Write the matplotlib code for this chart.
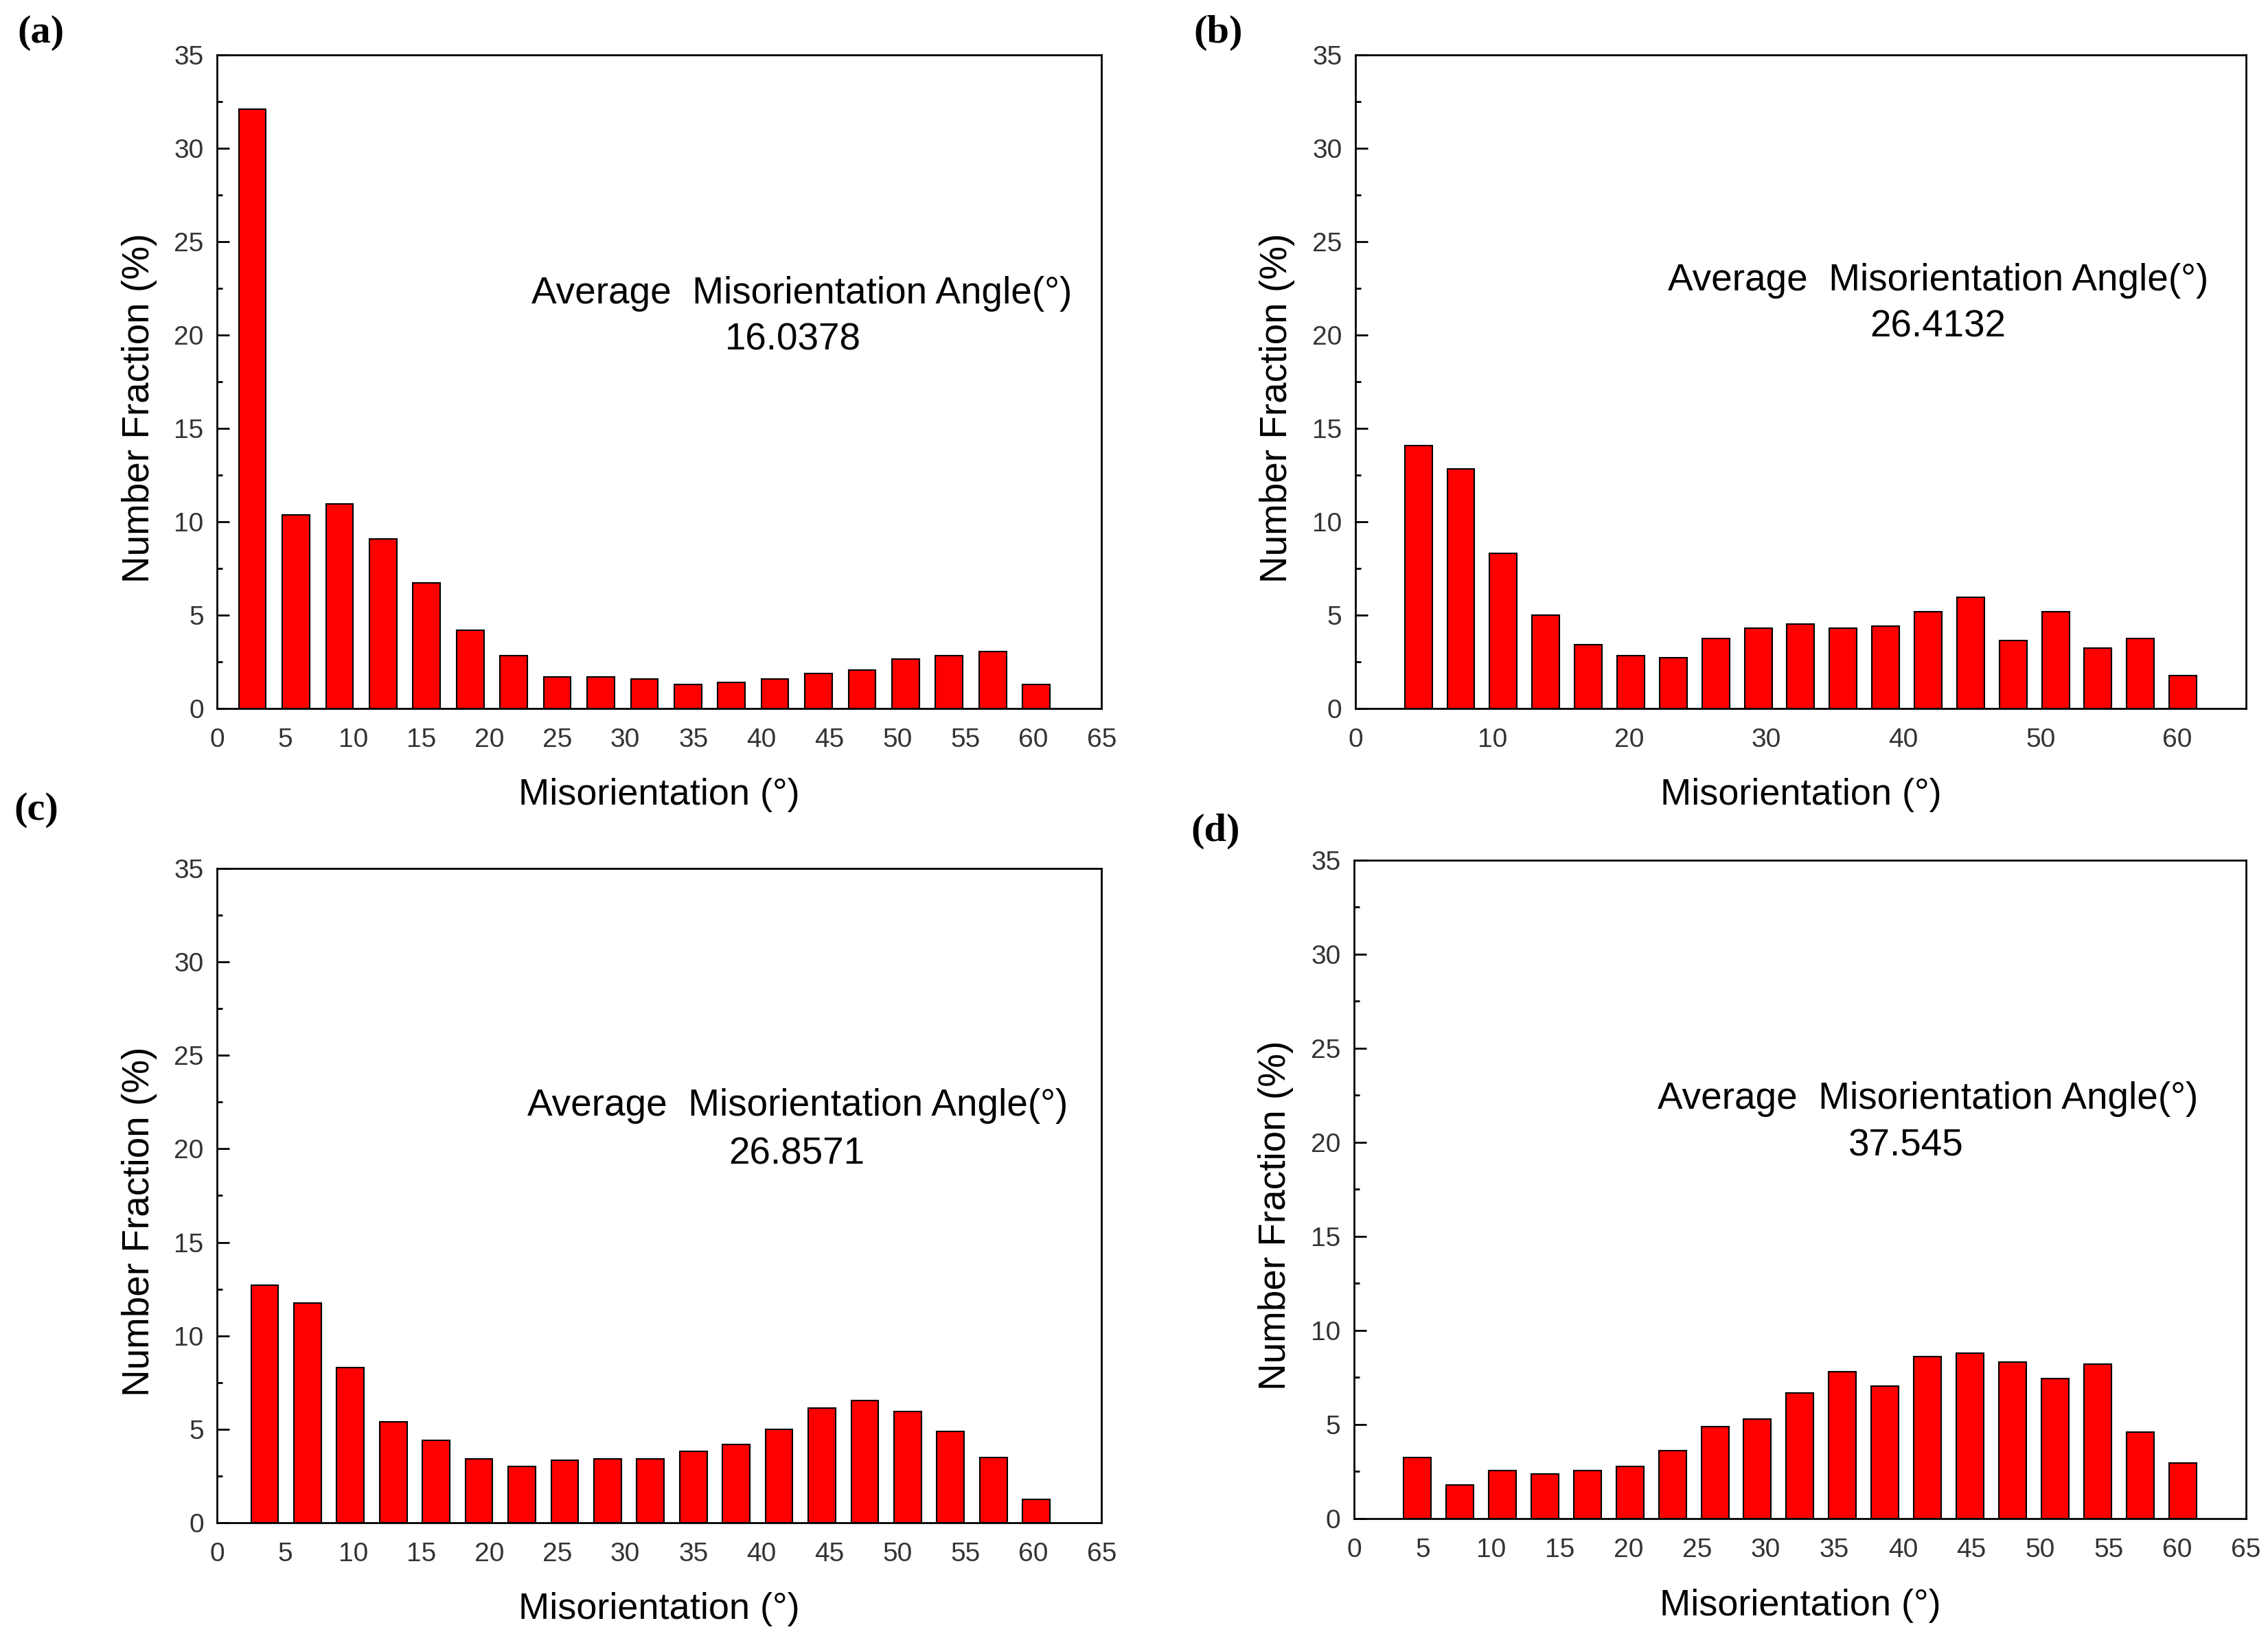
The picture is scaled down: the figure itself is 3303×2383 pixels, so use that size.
import numpy as np
import matplotlib
matplotlib.use('Agg')
import matplotlib.pyplot as plt
from matplotlib.ticker import MultipleLocator

plt.rcParams['font.family'] = ['Liberation Sans', 'DejaVu Sans']

# bar centres (misorientation, deg)
x_a = [2.6, 5.8, 9.0, 12.2, 15.4, 18.6, 21.8, 25.0, 28.2, 31.4,
       34.6, 37.8, 41.0, 44.2, 47.4, 50.6, 53.8, 57.0, 60.2]
x_b = [4.6, 7.7, 10.8, 13.9, 17.0, 20.1, 23.2, 26.3, 29.4, 32.5,
       35.6, 38.7, 41.8, 44.9, 48.0, 51.1, 54.2, 57.3, 60.4]
x_c = [3.5, 6.65, 9.8, 12.95, 16.1, 19.25, 22.4, 25.55, 28.7, 31.85,
       35.0, 38.15, 41.3, 44.45, 47.6, 50.75, 53.9, 57.05, 60.2]
x_d = [4.6, 7.7, 10.8, 13.9, 17.0, 20.1, 23.2, 26.3, 29.4, 32.5,
       35.6, 38.7, 41.8, 44.9, 48.0, 51.1, 54.2, 57.3, 60.4]

# number fraction (%)
y_a = [32.1, 10.35, 10.95, 9.08, 6.74, 4.2, 2.84, 1.67, 1.67, 1.59,
       1.28, 1.39, 1.59, 1.87, 2.06, 2.65, 2.84, 3.06, 1.28]
y_b = [14.07, 12.81, 8.3, 4.99, 3.43, 2.84, 2.73, 3.73, 4.29, 4.51,
       4.29, 4.4, 5.18, 5.96, 3.62, 5.18, 3.23, 3.73, 1.75]
y_c = [12.7, 11.75, 8.3, 5.4, 4.4, 3.42, 3.03, 3.33, 3.42, 3.42,
       3.82, 4.2, 4.98, 6.15, 6.55, 5.95, 4.88, 3.5, 1.27]
y_d = [3.23, 1.78, 2.56, 2.37, 2.56, 2.76, 3.62, 4.9, 5.29, 6.66,
       7.82, 7.05, 8.6, 8.8, 8.33, 7.44, 8.21, 4.59, 2.95]

averages = ['16.0378', '26.4132', '26.8571', '37.545']
panel_tags = ['(a)', '(b)', '(c)', '(d)']

fig = plt.figure(figsize=(33.03, 23.83), dpi=100)

axes_rects = [
    [0.0957, 0.567, 0.390, 0.3995],
    [0.5976, 0.567, 0.3927, 0.3995],
    [0.0957, 0.0692, 0.390, 0.400],
    [0.5970, 0.0718, 0.3933, 0.4025],
]
# text anchors (data coords): title line left/centre-y, value centre
text_pos = [
    ((23.1, 22.2), (42.3, 19.7)),
    ((22.8, 22.9), (42.5, 20.4)),
    ((22.8, 22.3), (42.6, 19.7)),
    ((22.1, 22.3), (40.2, 19.8)),
]
tag_pos = [(0.018, 0.980), (0.537, 0.980), (0.016, 0.505), (0.536, 0.492)]

series = [(x_a, y_a), (x_b, y_b), (x_c, y_c), (x_d, y_d)]

for i, (xs, ys) in enumerate(series):
    ax = fig.add_axes(axes_rects[i])
    ax.bar(xs, ys, width=2.0, color='#ff0000', edgecolor='black',
           linewidth=1.5)
    ax.set_xlim(0, 65)
    ax.set_ylim(0, 35)
    if i == 1:
        ax.set_xticks(np.arange(0, 61, 10))
    else:
        ax.set_xticks(np.arange(0, 66, 5))
    ax.yaxis.set_major_locator(MultipleLocator(5))
    ax.yaxis.set_minor_locator(MultipleLocator(2.5))
    ax.tick_params(axis='x', length=0, pad=20, labelsize=28,
                   labelcolor='#333333')
    ax.tick_params(axis='y', which='major', direction='in', length=13,
                   width=2, pad=14, labelsize=28, labelcolor='#333333')
    ax.tick_params(axis='y', which='minor', direction='in', length=6,
                   width=2)
    for sp in ax.spines.values():
        sp.set_linewidth(2)

    ax.set_xlabel('Misorientation (°)', fontsize=39)
    ax.set_ylabel('Number Fraction (%)', fontsize=39.5)
    ax.xaxis.set_label_coords(0.5, -0.106)
    ax.yaxis.set_label_coords(-0.068, 0.46)

    (tx, ty), (vx, vy) = text_pos[i]
    ax.text(tx, ty, 'Average  Misorientation Angle(°)', fontsize=39.5,
            ha='left', va='center')
    ax.text(vx, vy, averages[i], fontsize=39.5, ha='center', va='center')

    fig.text(tag_pos[i][0], tag_pos[i][1], panel_tags[i],
             family=['Liberation Serif', 'DejaVu Serif'],
             fontweight='bold', fontsize=42, ha='center', va='center')

plt.savefig('out.png', dpi=100)
